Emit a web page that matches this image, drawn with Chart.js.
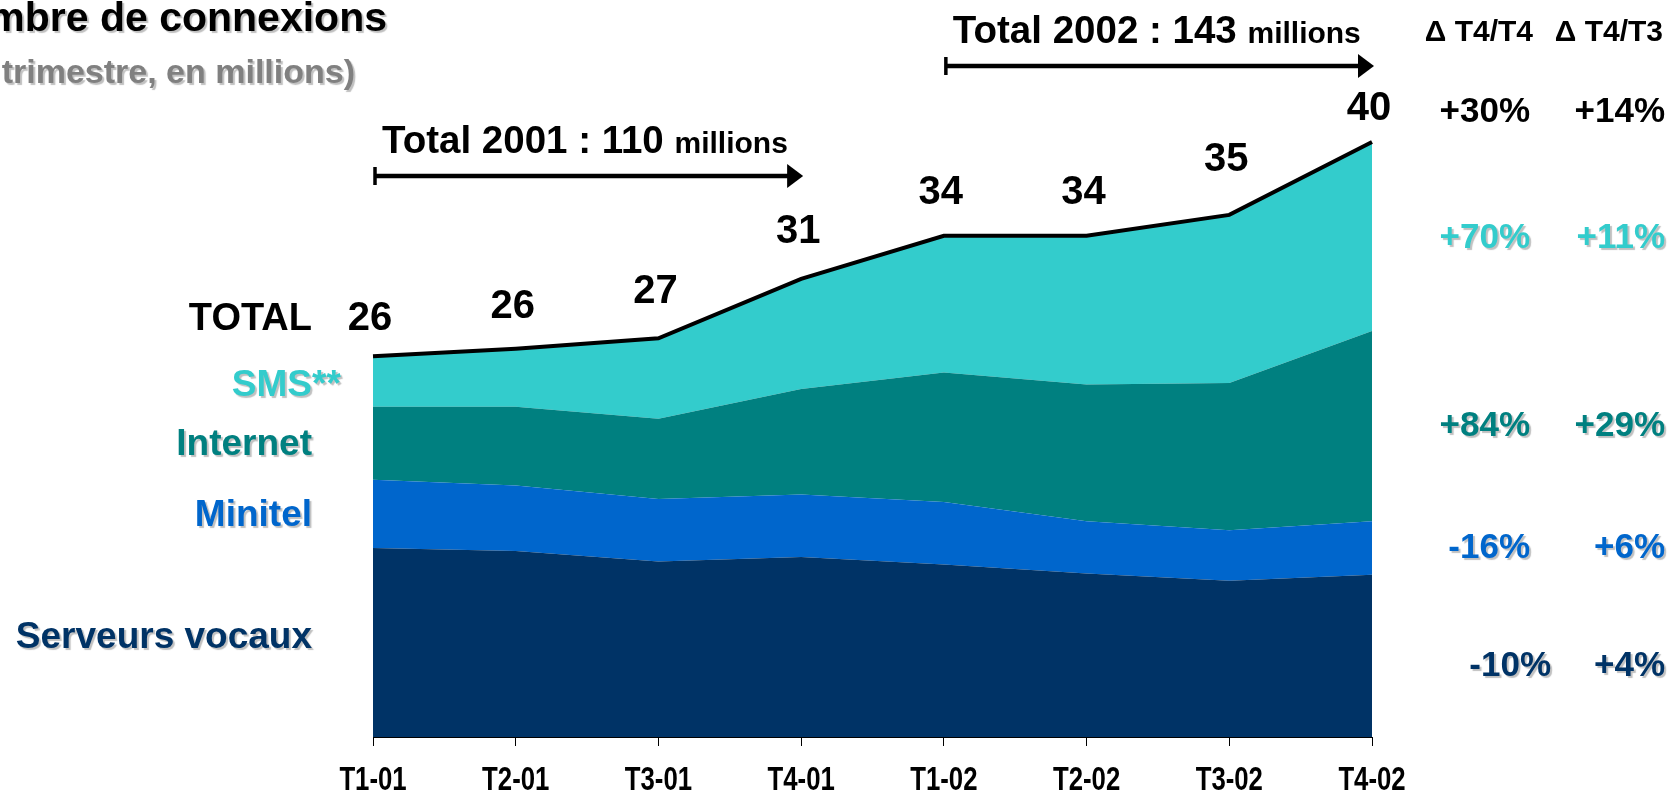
<!DOCTYPE html>
<html>
<head>
<meta charset="utf-8">
<script src="https://cdn.jsdelivr.net/npm/chart.js"></script>
<style>
  html, body { margin: 0; padding: 0; background: #fff; }
  #wrap { width: 1670px; height: 791px; }
</style>
</head>
<body>
<div id="wrap"><canvas id="connChart" width="1670" height="791"></canvas></div>
<script>
// trimestres
const quarters = ['T1-01', 'T2-01', 'T3-01', 'T4-01', 'T1-02', 'T2-02', 'T3-02', 'T4-02'];

// connexions par service (millions)
const vocaux   = [12.7, 12.5, 11.8, 12.1, 11.6, 11.0, 10.5, 10.9];
const minitel  = [4.6, 4.4, 4.2, 4.2, 4.2, 3.5, 3.4, 3.6];
const internet = [4.9, 5.3, 5.4, 7.1, 8.7, 9.2, 9.9, 12.8];
const sms      = [3.4, 3.9, 5.4, 7.4, 9.2, 10.0, 11.3, 12.7];

const seriesNames  = ['Serveurs vocaux', 'Minitel', 'Internet', 'SMS**'];
const seriesColors = ['#003366', '#0066CC', '#008080', '#33CCCC'];

// évolutions (même ordre que les séries) + total
const varT4T4 = ['-10%', '-16%', '+84%', '+70%'];
const varT4T3 = ['+4%', '+6%', '+29%', '+11%'];
const totalVar = ['+30%', '+14%'];

// périodes annuelles (index des trimestres)
const years = [
  { name: '2001', first: 0, last: 3 },
  { name: '2002', first: 4, last: 7 }
];

const series = [vocaux, minitel, internet, sms];
const totals = quarters.map((q, i) => series.reduce((s, d) => s + d[i], 0));
const totalLabels = totals.map(t => Math.round(t + 1e-9));

const FONT = '"Liberation Sans", Arial, sans-serif';

function shadowOn(ctx) {
  ctx.shadowColor = 'rgba(150,150,150,0.6)';
  ctx.shadowOffsetX = 2;
  ctx.shadowOffsetY = 2;
  ctx.shadowBlur = 1;
}
function shadowOff(ctx) {
  ctx.shadowColor = 'transparent';
  ctx.shadowOffsetX = 0;
  ctx.shadowOffsetY = 0;
  ctx.shadowBlur = 0;
}

function drawSpan(ctx, x1, x2, y) {
  ctx.save();
  ctx.strokeStyle = '#000';
  ctx.fillStyle = '#000';
  ctx.lineWidth = 4.5;
  ctx.beginPath();
  ctx.moveTo(x1, y);
  ctx.lineTo(x2 - 14, y);
  ctx.stroke();
  ctx.lineWidth = 3.5;
  ctx.beginPath();
  ctx.moveTo(x1, y - 9);
  ctx.lineTo(x1, y + 9);
  ctx.stroke();
  ctx.beginPath();
  ctx.moveTo(x2 - 16, y - 12);
  ctx.lineTo(x2, y);
  ctx.lineTo(x2 - 16, y + 12);
  ctx.closePath();
  ctx.fill();
  ctx.restore();
}

const annotations = {
  id: 'annotations',
  afterDraw(chart) {
    const ctx = chart.ctx;
    const xs = chart.scales.x, ys = chart.scales.y;
    const last = quarters.length - 1;
    ctx.save();

    // étiquettes de l'axe x, en corps étroit
    ctx.fillStyle = '#000';
    ctx.textAlign = 'center';
    ctx.textBaseline = 'middle';
    ctx.font = 'bold 33px ' + FONT;
    quarters.forEach((q, i) => {
      ctx.save();
      ctx.translate(xs.getPixelForValue(i), 781);
      ctx.scale(0.78, 1);
      ctx.fillText(q, 0, 0);
      ctx.restore();
    });

    // titre
    ctx.textAlign = 'right';
    ctx.textBaseline = 'alphabetic';
    shadowOn(ctx);
    ctx.fillStyle = '#000';
    ctx.font = 'bold 41px ' + FONT;
    ctx.fillText('Nombre de connexions', 387, 31);
    ctx.fillStyle = '#808080';
    ctx.font = 'bold 34px ' + FONT;
    ctx.fillText('(par trimestre, en millions)', 355, 83);
    shadowOff(ctx);

    // valeurs totales au-dessus de la courbe
    const lift = [37, 42, 46, 47, 43, 43, 55, 33];
    ctx.textAlign = 'center';
    ctx.textBaseline = 'middle';
    ctx.fillStyle = '#000';
    ctx.font = 'bold 40px ' + FONT;
    totalLabels.forEach((v, i) => {
      ctx.fillText(String(v), xs.getPixelForValue(i) - 3, ys.getPixelForValue(totals[i]) - lift[i]);
    });

    // libellés des séries à gauche, centrés sur chaque couche au 1er trimestre
    const labelRight = 312;
    ctx.textAlign = 'right';
    ctx.font = 'bold 38px ' + FONT;
    ctx.fillText('TOTAL', labelRight, ys.getPixelForValue(totals[0]) - lift[0]);
    ctx.font = 'bold 37px ' + FONT;
    const leftNudge = [-5, 2, 2, 4];
    let base = 0;
    series.forEach((d, k) => {
      const yc = (ys.getPixelForValue(base) + ys.getPixelForValue(base + d[0])) / 2 + leftNudge[k];
      base += d[0];
      const name = seriesNames[k];
      const stars = (name.match(/\*+$/) || [''])[0];
      shadowOn(ctx);
      ctx.fillStyle = seriesColors[k];
      ctx.fillText(name, labelRight + ctx.measureText(stars).width, yc);
      shadowOff(ctx);
    });

    // évolutions à droite, centrées sur chaque couche au dernier trimestre
    const col1 = 1530, col2 = 1665;
    const nudgeX = [21, 0, 0, 0], nudgeY = [10, 0, 0, 2];
    ctx.font = 'bold 30px ' + FONT;
    ctx.fillStyle = '#000';
    ctx.textBaseline = 'alphabetic';
    ctx.fillText('\u0394 T4/T4', 1533, 41);
    ctx.fillText('\u0394 T4/T3', 1663, 41);
    ctx.textBaseline = 'middle';
    ctx.font = 'bold 35px ' + FONT;
    const yTot = ys.getPixelForValue(totals[last]) - lift[last] + 3;
    ctx.fillText(totalVar[0], col1, yTot);
    ctx.fillText(totalVar[1], col2, yTot);
    base = 0;
    series.forEach((d, k) => {
      const yc = (ys.getPixelForValue(base) + ys.getPixelForValue(base + d[last])) / 2 + nudgeY[k];
      base += d[last];
      shadowOn(ctx);
      ctx.fillStyle = seriesColors[k];
      ctx.fillText(varT4T4[k], col1 + nudgeX[k], yc);
      ctx.fillText(varT4T3[k], col2, yc);
      shadowOff(ctx);
    });

    // cumuls annuels avec flèche
    const spanY = [176, 66];
    years.forEach((yr, j) => {
      const x1 = xs.getPixelForValue(yr.first) + 2;
      const x2 = xs.getPixelForValue(yr.last) + 2;
      const sum = totalLabels.slice(yr.first, yr.last + 1).reduce((a, b) => a + b, 0);
      drawSpan(ctx, x1, x2, spanY[j]);
      ctx.textAlign = 'left';
      ctx.textBaseline = 'alphabetic';
      ctx.fillStyle = '#000';
      const head = 'Total ' + yr.name + ' : ' + sum + ' ';
      ctx.font = 'bold 38.5px ' + FONT;
      ctx.fillText(head, x1 + 7, spanY[j] - 23);
      const w = ctx.measureText(head).width;
      ctx.font = 'bold 30px ' + FONT;
      ctx.fillText('millions', x1 + 7 + w, spanY[j] - 23);
    });

    ctx.restore();
  }
};

new Chart(document.getElementById('connChart'), {
  type: 'line',
  data: {
    labels: quarters,
    datasets: series.map((d, k) => ({
      label: seriesNames[k],
      data: d,
      backgroundColor: seriesColors[k],
      borderColor: k === series.length - 1 ? '#000' : seriesColors[k],
      borderWidth: k === series.length - 1 ? 4 : 0,
      fill: k === 0 ? 'origin' : '-1',
      pointRadius: 0,
      tension: 0
    }))
  },
  options: {
    responsive: false,
    animation: false,
    layout: { padding: { left: 373, right: 298, top: 23, bottom: 0 } },
    plugins: { legend: { display: false }, tooltip: { enabled: false } },
    scales: {
      x: {
        afterFit(scale) { scale.height = 54; },
        grid: { display: true, drawOnChartArea: false, drawTicks: true, tickLength: 9, color: '#000' },
        border: { display: true, color: '#000', width: 1 },
        // libellés dessinés par le plugin
        ticks: { color: 'transparent', padding: 3, maxRotation: 0, autoSkip: false, font: { size: 20 } }
      },
      y: { display: false, stacked: true, min: 0, max: 48 }
    }
  },
  plugins: [annotations]
});
</script>
</body>
</html>
